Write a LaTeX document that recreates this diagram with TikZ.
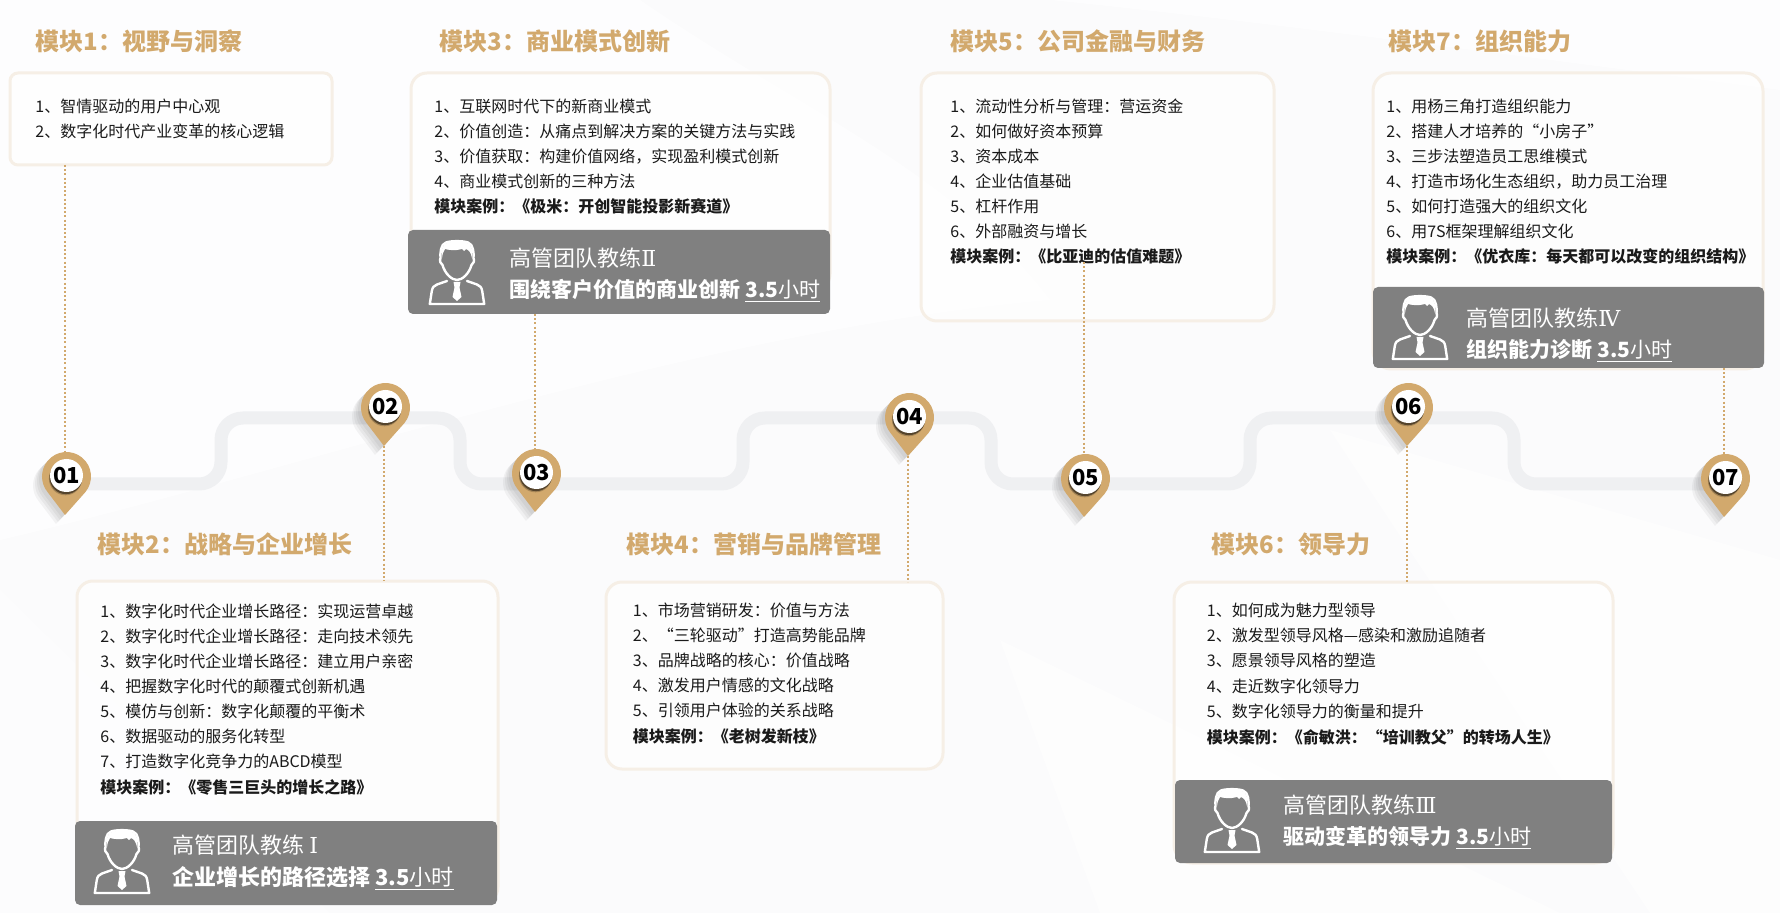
\documentclass[tikz,border=0pt]{standalone}
\usepackage{fontspec}
\setmainfont{Noto Sans CJK SC}
\newfontfamily\romanfont{DejaVu Serif}
\definecolor{tan}{HTML}{D2A96D}
\definecolor{edgecol}{HTML}{F6EFE6}
\definecolor{trackcol}{HTML}{EFF0F2}
\definecolor{coachgray}{HTML}{808080}
\definecolor{bgcol}{HTML}{FBFBFC}
\definecolor{inkcol}{HTML}{1A1A1A}
\tikzset{
  roundbox/.style={draw=edgecol,line width=1.5pt,fill=white,fill opacity=.6,rectangle,outer sep=0pt,inner sep=0pt},
  coachbox/.style={fill=coachgray,rectangle,rounded corners=2.5pt,outer sep=0pt,inner sep=0pt},
  itemtext/.style={anchor=west,inner sep=0pt,text=inkcol,font=\fontsize{8}{10}\selectfont,text height=6.5pt,text depth=.5pt},
  casetext/.style={itemtext,font=\fontsize{8}{10}\selectfont\bfseries},
  modtitle/.style={anchor=west,inner sep=0pt,text=tan,font=\fontsize{12}{14}\selectfont\bfseries,text height=9.8pt,text depth=.8pt},
  coachone/.style={anchor=west,inner sep=0pt,text=white,font=\fontsize{11}{13}\selectfont,text height=9pt,text depth=.75pt},
  coachtwo/.style={coachone,font=\fontsize{10.5}{13}\selectfont\bfseries},
  coachtwobig/.style={coachone,font=\fontsize{11}{13}\selectfont\bfseries},
  track/.style={draw=trackcol,line width=6.5pt,rounded corners=11pt},
  dotline/.style={draw=tan,line width=.95pt,dash pattern=on 1pt off 1.1pt},
  pinface/.style={circle,fill=white,minimum size=16.5pt,inner sep=0pt,outer sep=0pt,text=black,font=\fontsize{11}{13}\selectfont\bfseries},
  iconline/.style={draw=white,line width=1.2pt,line join=round,line cap=round},
}
\newcommand{\rectnode}[6]{%
  \pgfmathsetmacro\rw{(#5-#3)*0.5}\pgfmathsetmacro\rh{(#6-#4)*0.5}%
  \pgfmathsetmacro\rx{(#3+#5)/2}\pgfmathsetmacro\ry{(#4+#6)/2}%
  \node[#1,minimum width=\rw pt,minimum height=\rh pt] (#2) at (\rx,\ry) {};}
\newcommand{\listlines}[5]{%
  \foreach \lntext [count=\lnidx from 0] in {#5}{%
    \pgfmathsetmacro\ly{#3+\lnidx*#4}%
    \node[itemtext] (#1-\lnidx) at (#2,\ly) {\lntext};}}
% pin: #2,#3 is the point the dotted line runs through (x) and the head centre (y)
\newcommand{\pinmark}[4]{%
  \begin{scope}[shift={(#2+1.5,#3-.5)}]
    \foreach \shoff in {3,5,7,9}{%
      \fill[black,opacity=.045,shift={(-\shoff,\shoff)}] (18.9,15.58) arc[start angle=39.5,end angle=-219.5,radius=24.5] -- (-1.5,38.5) -- cycle;}
    \fill[tan] (18.9,15.58) arc[start angle=39.5,end angle=-219.5,radius=24.5] -- (-1.5,38.5) -- cycle;
    \fill[black!70!tan,opacity=.3] (-1,2.2) circle[radius=16.6];
    \fill[black!85!tan,opacity=.6] (-.6,1.2) circle[radius=16.4];
    \node[pinface] (#1) at (0,-1) {#4};
    \coordinate (#1top) at (-1.5,-24.5);
    \coordinate (#1tip) at (-1.5,38.5);
  \end{scope}}
\newcommand{\personicon}[2]{%
  \begin{scope}[shift={(#1,#2)}]
    \draw[iconline] (11.5,17) .. controls (11,13) and (11.5,3) .. (17,1.5) .. controls (22,-.3) and (34,-.3) .. (39,1.5) .. controls (44.5,3) and (45,13) .. (44.5,17)
      .. controls (46,20) and (44,23) .. (42.5,24) .. controls (40,33) and (33,39) .. (28,39) .. controls (23,39) and (16,33) .. (13.5,24) .. controls (12,23) and (10,20) .. (11.5,17) -- cycle;
    \fill[white] (13,17) .. controls (12,8) and (14,3) .. (18,2) .. controls (24,0) and (33,0) .. (38,2) .. controls (42,3) and (44,8) .. (43,17)
      .. controls (42,12) and (40,9) .. (37,8) -- (35,10) -- (33,8) .. controls (27,10) and (19,9) .. (16,8) .. controls (14.5,10) and (13.5,13) .. (13,17) -- cycle;
    \draw[iconline] (18,40) -- (8,43.5) .. controls (5,45) and (3.5,46) .. (2.8,50) -- (.8,63) -- (55.2,63) -- (53.2,50) .. controls (52.5,46) and (51,45) .. (48,43.5) -- (38,40);
    \fill[white] (24.5,41) -- (31.5,41) -- (30.5,46.5) -- (32.5,56) -- (28,60) -- (23.5,56) -- (25.5,46.5) -- cycle;
  \end{scope}}
\newcommand{\hourtext}{\underline{\hbox{3.5{\mdseries 小时}}}}
\begin{document}
\begin{tikzpicture}[x=0.5pt,y=-0.5pt]
  \useasboundingbox (0,0) rectangle (1780,913);
  \fill[bgcol] (0,0) rectangle (1780,913);
  % faint background facets
  \fill[white,opacity=.7] (0,0) -- (640,0) .. controls (800,110) and (950,170) .. (1050,300) .. controls (700,330) and (300,470) .. (0,540) -- cycle;
  \fill[white,opacity=.7] (1050,0) -- (1780,0) -- (1780,90) .. controls (1550,60) and (1250,20) .. (1050,0) -- cycle;
  \fill[white,opacity=.5] (1000,640) -- (1560,913) -- (1100,913) -- cycle;
  \fill[white,opacity=.6] (1330,430) -- (1780,560) -- (1780,913) -- (1650,913) -- cycle;
  \fill[white,opacity=.4] (0,590) -- (330,913) -- (0,913) -- cycle;
  % track
  \coordinate (lo) at (0,484);
  \coordinate (hi) at (0,418);
  \coordinate (v0) at (65,0);
  \coordinate (v1) at (221,0);
  \coordinate (v2) at (460,0);
  \coordinate (v3) at (743,0);
  \coordinate (v4) at (991,0);
  \coordinate (v5) at (1250,0);
  \coordinate (v6) at (1514,0);
  \coordinate (v7) at (1724,0);
  \draw[track] (v0 |- lo) -- (v1 |- lo) -- (v1 |- hi) -- (v2 |- hi) -- (v2 |- lo) -- (v3 |- lo) -- (v3 |- hi) -- (v4 |- hi) -- (v4 |- lo) -- (v5 |- lo) -- (v5 |- hi) -- (v6 |- hi) -- (v6 |- lo) -- (v7 |- lo);
  % boxes
  \rectnode{roundbox,rounded corners=4pt}{b1}{10}{73}{332}{165}
  \rectnode{roundbox,rounded corners=8pt}{b2}{77}{581}{498}{903}
  \rectnode{roundbox,rounded corners=8pt}{b3}{411}{73}{830}{290}
  \rectnode{roundbox,rounded corners=8pt}{b4}{606}{582}{943}{769}
  \rectnode{roundbox,rounded corners=8pt}{b5}{921}{73}{1274}{321}
  \rectnode{roundbox,rounded corners=9pt}{b6}{1174}{582}{1613}{863}
  \rectnode{roundbox,rounded corners=9pt}{b7}{1373}{73}{1763}{369}
  % pins
  \pinmark{p1}{65}{477}{01}
  \pinmark{p2}{384}{408}{02}
  \pinmark{p3}{535}{474}{03}
  \pinmark{p4}{908}{418}{04}
  \pinmark{p5}{1084}{479}{05}
  \pinmark{p6}{1407}{408}{06}
  \pinmark{p7}{1724}{479}{07}
  % titles
  \node[modtitle] (t1) at (35,42) {模块1：视野与洞察};
  \node[modtitle] (t2) at (97,544) {模块2：战略与企业增长};
  \node[modtitle] (t3) at (439,42) {模块3：商业模式创新};
  \node[modtitle] (t4) at (626,544) {模块4：营销与品牌管理};
  \node[modtitle] (t5) at (950.5,42) {模块5：公司金融与财务};
  \node[modtitle] (t6) at (1211,544) {模块6：领导力};
  \node[modtitle] (t7) at (1388,42) {模块7：组织能力};
  % lists
  \listlines{l1}{35}{107}{25}{1、智情驱动的用户中心观,2、数字化时代产业变革的核心逻辑}
  \listlines{l2}{100}{611}{25.1}{1、数字化时代企业增长路径：实现运营卓越,2、数字化时代企业增长路径：走向技术领先,3、数字化时代企业增长路径：建立用户亲密,4、把握数字化时代的颠覆式创新机遇,5、模仿与创新：数字化颠覆的平衡术,6、数据驱动的服务化转型,7、打造数字化竞争力的ABCD模型}
  \node[casetext] (c2) at (100,787) {模块案例：《零售三巨头的增长之路》};
  \listlines{l3}{434}{107}{25}{1、互联网时代下的新商业模式,2、价值创造：从痛点到解决方案的关键方法与实践,3、价值获取：构建价值网络，实现盈利模式创新,4、商业模式创新的三种方法}
  \node[casetext] (c3) at (434,207) {模块案例：《极米：开创智能投影新赛道》};
  \listlines{l4}{632.5}{610}{25.1}{1、市场营销研发：价值与方法,2、“三轮驱动”打造高势能品牌,3、品牌战略的核心：价值战略,4、激发用户情感的文化战略,5、引领用户体验的关系战略}
  \node[casetext] (c4) at (632.5,736) {模块案例：《老树发新枝》};
  \listlines{l5}{950}{107}{25}{1、流动性分析与管理：营运资金,2、如何做好资本预算,3、资本成本,4、企业估值基础,5、杠杆作用,6、外部融资与增长}
  \node[casetext] (c5) at (950,257) {模块案例：《比亚迪的估值难题》};
  \listlines{l6}{1206.5}{610.5}{25.2}{1、如何成为魅力型领导,2、激发型领导风格—感染和激励追随者,3、愿景领导风格的塑造,4、走近数字化领导力,5、数字化领导力的衡量和提升}
  \node[casetext] (c6) at (1206.5,737) {模块案例：《俞敏洪：“培训教父”的转场人生》};
  \listlines{l7}{1386}{107}{25}{1、用杨三角打造组织能力,2、搭建人才培养的“小房子”,3、三步法塑造员工思维模式,4、打造市场化生态组织，助力员工治理,5、如何打造强大的组织文化,6、用7S框架理解组织文化}
  \node[casetext] (c7) at (1386,257) {模块案例：《优衣库：每天都可以改变的组织结构》};
  % coach panels
  \rectnode{coachbox}{g1}{75}{821}{497}{905}
  \personicon{94}{830}
  \node[coachone] (g1a) at (172,845) {高管团队教练 {\romanfont Ⅰ}};
  \node[coachtwobig] (g1b) at (172,877) {企业增长的路径选择 \hourtext};
  \rectnode{coachbox}{g2}{408}{230}{830}{314}
  \personicon{429}{241}
  \node[coachone] (g2a) at (509,258) {高管团队教练{\romanfont Ⅱ}};
  \node[coachtwo] (g2b) at (509,289) {围绕客户价值的商业创新 \hourtext};
  \rectnode{coachbox}{g3}{1175}{780}{1612}{863}
  \personicon{1204}{789}
  \node[coachone] (g3a) at (1283,805) {高管团队教练{\romanfont Ⅲ}};
  \node[coachtwo] (g3b) at (1283,836) {驱动变革的领导力 \hourtext};
  \rectnode{coachbox}{g4}{1373}{287}{1764}{368}
  \personicon{1392}{296}
  \node[coachone] (g4a) at (1466,318) {高管团队教练{\romanfont Ⅳ}};
  \node[coachtwo] (g4b) at (1466,349) {组织能力诊断 \hourtext};
  % connectors
  \coordinate (d5) at (1084,262);
  \draw[dotline] (b1.south -| p1top) -- (p1top);
  \draw[dotline] (p2tip) -- (b2.north -| p2tip);
  \draw[dotline] (g2.south -| p3top) -- (p3top);
  \draw[dotline] (p4tip) -- (b4.north -| p4tip);
  \draw[dotline] (d5) -- (p5top);
  \draw[dotline] (p6tip) -- (b6.north -| p6tip);
  \draw[dotline] (g4.south -| p7top) -- (p7top);
\end{tikzpicture}
\end{document}
